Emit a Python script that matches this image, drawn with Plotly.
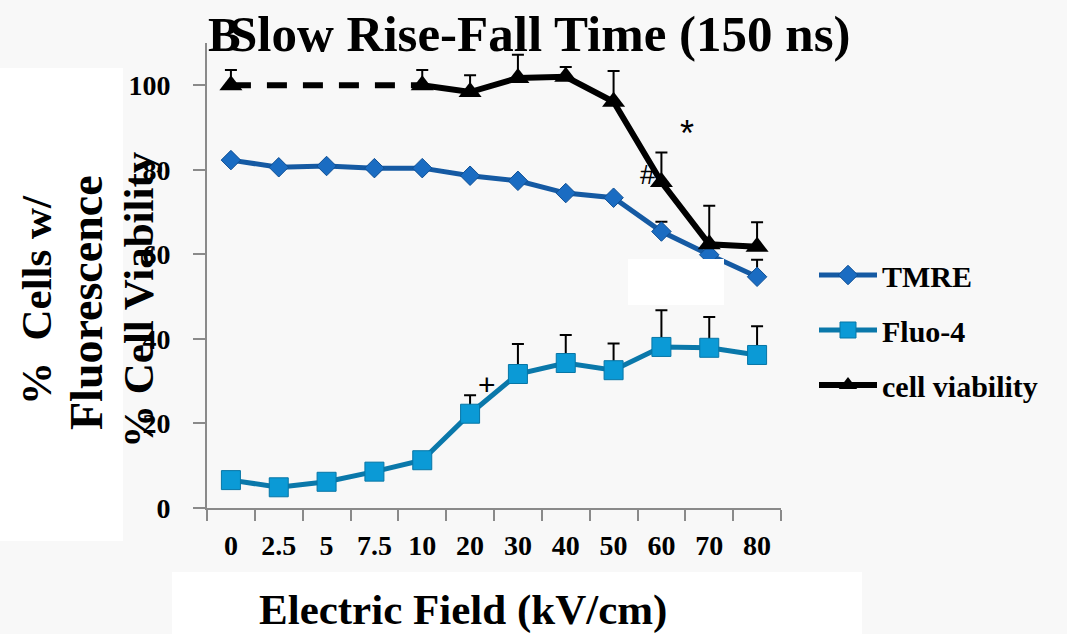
import plotly.graph_objects as go

# Electric field strengths (kV/cm), used as categories
fields = ["0", "2.5", "5", "7.5", "10", "20", "30", "40", "50", "60", "70", "80"]

# % cells with TMRE fluorescence
tmre = [82.3, 80.6, 80.9, 80.4, 80.4, 78.6, 77.4, 74.5, 73.4, 65.4, 59.9, 54.7]
tmre_err = [0, 0, 0, 0, 0, 0, 0, 0, 0, 2.3, 0, 4.0]

# % cells with Fluo-4 fluorescence
fluo4 = [6.6, 4.9, 6.2, 8.6, 11.3, 22.3, 31.7, 34.3, 32.6, 38.1, 37.9, 36.2]
fluo4_err = [0, 0, 0, 0, 0, 4.4, 7.1, 6.6, 6.3, 8.7, 7.3, 6.8]

# % cell viability (not measured at 2.5 - 7.5 kV/cm)
viability = [100.0, None, None, None, 100.0, 98.4, 101.7, 102.0, 96.1, 77.1, 62.4, 61.8]
viability_err = [3.6, None, None, None, 3.6, 4.0, 5.5, 2.3, 7.3, 7.0, 9.1, 5.8]

# Significance marks: (x position in category units, y value, symbol, size)
marks = [(9.54, 88.5, "*", 36), (8.72, 79.0, "#", 28), (5.35, 29.1, "+", 30)]

SERIF = "Liberation Serif"
BG = "#f8f8f8"

# plot-area pixel frame (used to place boxes and free text)
L, R, T, B = 207, 781, 43, 508


def px(x):
    return (x - L) / (R - L)


def py(y):
    return (B - y) / (B - T)


fig = go.Figure()

fig.add_trace(go.Scatter(
    x=fields, y=tmre, name="TMRE", mode="lines+markers",
    line=dict(color="#155aa3", width=5),
    marker=dict(symbol="diamond", size=15, color="#1a6cc2",
                line=dict(color="#0f4f94", width=1)),
    error_y=dict(type="data", array=tmre_err, arrayminus=[0] * len(tmre),
                 symmetric=False, color="black", thickness=2, width=6),
))

fig.add_trace(go.Scatter(
    x=fields, y=fluo4, name="Fluo-4", mode="lines+markers",
    line=dict(color="#0a78aa", width=5),
    marker=dict(symbol="square", size=19, color="#0b9ad6",
                line=dict(color="#0776a6", width=1)),
    error_y=dict(type="data", array=fluo4_err, arrayminus=[0] * len(fluo4),
                 symmetric=False, color="black", thickness=2, width=6),
))

# dashed bridge over the unmeasured fields
fig.add_trace(go.Scatter(
    x=[fields[0], fields[4]], y=[viability[0], viability[4]],
    mode="lines", line=dict(color="black", width=6, dash="20px,16px"),
    showlegend=False, hoverinfo="skip",
))

fig.add_trace(go.Scatter(
    x=fields, y=viability, name="cell viability", mode="lines+markers",
    connectgaps=False,
    line=dict(color="black", width=6),
    marker=dict(symbol="triangle-up", size=20, color="black"),
    error_y=dict(type="data", array=viability_err,
                 arrayminus=[0] * len(viability),
                 symmetric=False, color="black", thickness=2, width=6),
))

annotations = []
for xi, yv, s, sz in marks:
    annotations.append(dict(
        x=xi, y=yv, xref="x", yref="y", text=s, showarrow=False,
        font=dict(family="Liberation Sans", size=sz, color="black"),
    ))

BOLD = dict(family=SERIF, color="black", weight="bold")

annotations += [
    dict(x=px(206), y=py(34), xref="paper", yref="paper", text="B",
         xanchor="left", yanchor="middle", showarrow=False,
         font=dict(size=49, **BOLD)),
    dict(x=px(227), y=py(34), xref="paper", yref="paper",
         text="Slow Rise-Fall Time (150 ns)",
         xanchor="left", yanchor="middle", showarrow=False,
         font=dict(size=51, **BOLD)),
    dict(x=px(36), y=py(300), xref="paper", yref="paper",
         text="%  Cells w/", textangle=-90,
         xanchor="center", yanchor="middle", showarrow=False,
         font=dict(size=43, **BOLD)),
    dict(x=px(86), y=py(303), xref="paper", yref="paper",
         text="Fluorescence", textangle=-90,
         xanchor="center", yanchor="middle", showarrow=False,
         font=dict(size=46, **BOLD)),
    dict(x=px(138), y=py(300), xref="paper", yref="paper",
         text="% Cell Viability", textangle=-90,
         xanchor="center", yanchor="middle", showarrow=False,
         font=dict(size=43, **BOLD)),
    dict(x=px(463), y=py(610), xref="paper", yref="paper",
         text="Electric Field (kV/cm)",
         xanchor="center", yanchor="middle", showarrow=False,
         font=dict(size=43, **BOLD)),
]

shapes = [
    dict(type="rect", xref="paper", yref="paper", layer="above",
         x0=px(0), x1=px(123), y0=py(68), y1=py(541),
         fillcolor="white", line=dict(width=0)),
    dict(type="rect", xref="paper", yref="paper", layer="above",
         x0=px(172), x1=px(862), y0=py(572), y1=py(640),
         fillcolor="white", line=dict(width=0)),
    dict(type="rect", xref="paper", yref="paper", layer="above",
         x0=px(628), x1=px(724), y0=py(259), y1=py(305),
         fillcolor="white", line=dict(width=0)),
]

fig.update_layout(
    width=1067, height=634,
    margin=dict(l=L, r=1067 - R, t=T, b=634 - B),
    paper_bgcolor=BG, plot_bgcolor=BG,
    showlegend=True,
    legend=dict(
        x=px(814), y=py(330), xanchor="left", yanchor="middle",
        bgcolor="rgba(0,0,0,0)", itemwidth=58,
        font=dict(size=30, **BOLD),
        tracegroupgap=13, traceorder="grouped",
    ),
    annotations=annotations,
    shapes=shapes,
)

fig.update_xaxes(
    type="category", range=[-0.5, len(fields) - 0.5],
    showgrid=False, zeroline=False,
    showline=True, linecolor="#8a8a8a", linewidth=2,
    ticks="outside", ticklen=11, tickwidth=2, tickcolor="#8a8a8a",
    tickson="boundaries", ticklabelstandoff=11,
    tickfont=dict(size=28, **BOLD),
)

fig.update_yaxes(
    range=[0, 110], tickvals=[0, 20, 40, 60, 80, 100],
    showgrid=False, zeroline=False,
    showline=True, linecolor="#8a8a8a", linewidth=2,
    ticks="outside", ticklen=12, tickwidth=2, tickcolor="#8a8a8a",
    ticklabelstandoff=17,
    tickfont=dict(size=28, **BOLD),
)

# legend groups so the gap setting spaces the entries
for i, tr in enumerate(fig.data):
    tr.legendgroup = "g%d" % i

fig.write_html("out.html")
